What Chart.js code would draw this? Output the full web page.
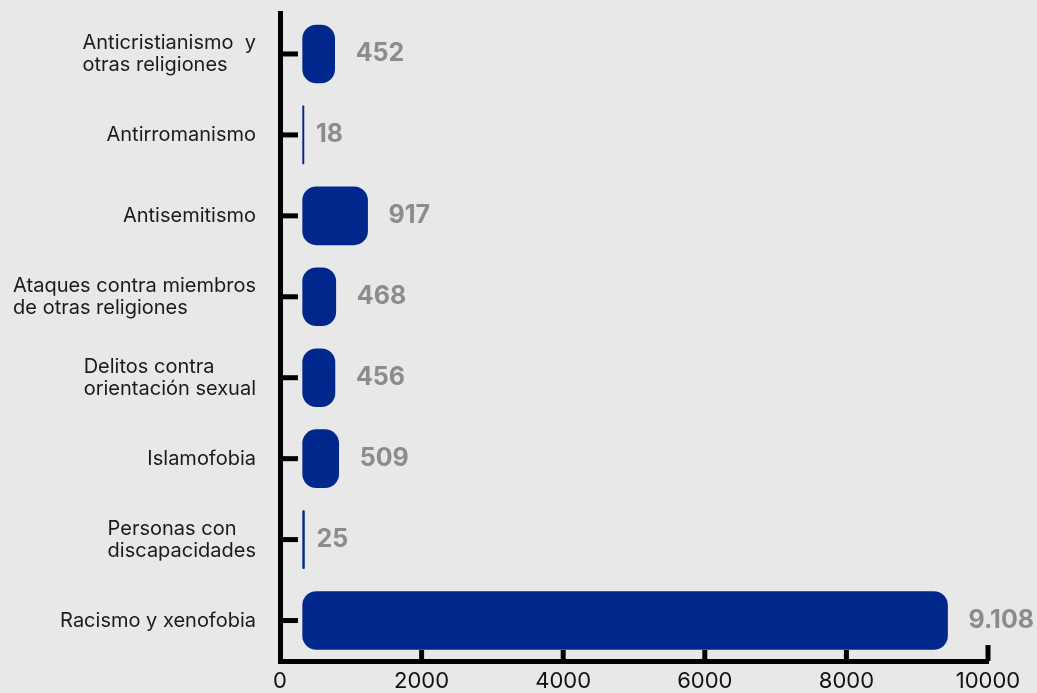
<!DOCTYPE html>
<html lang="es">
<head>
<meta charset="utf-8">
<title>Delitos de odio por motivo</title>
<script src="https://cdn.jsdelivr.net/npm/chart.js@4.4.1/dist/chart.umd.min.js"></script>
<style>
  html, body { margin: 0; padding: 0; background: #e8e8e8; }
  #wrap { position: relative; width: 1037px; height: 693px; }
</style>
</head>
<body>
<div id="wrap"><canvas id="chart"></canvas></div>
<script>
// Categories (one entry per line of the label)
const categories = [
    ['Anticristianismo  y', 'otras religiones'],
    ['Antirromanismo'],
    ['Antisemitismo'],
    ['Ataques contra miembros', 'de otras religiones'],
    ['Delitos contra', 'orientación sexual'],
    ['Islamofobia'],
    ['Personas con', 'discapacidades'],
    ['Racismo y xenofobia']
];
const values = [452, 18, 917, 468, 456, 509, 25, 9108];
const xTicks = [0, 2000, 4000, 6000, 8000, 10000];

// bars in the original float a little off the axis
const BAR_START = 320;

const FONT = 'Inter';
const NAVY = '#00288c';

const fmt = v => String(v).replace(/\B(?=(\d{3})+(?!\d))/g, '.');

// inward tick marks, category labels and value labels
const decor = {
    id: 'decor',
    afterDraw(chart) {
        const { ctx, chartArea, scales: { x, y } } = chart;
        ctx.save();

        ctx.fillStyle = '#000';
        xTicks.forEach((t, i) => {
            if (t === 0) return;
            const px = x.getPixelForValue(t);
            const len = i === xTicks.length - 1 ? 16 : 11;
            ctx.fillRect(px - 2.5, chartArea.bottom - len, 5, len);
        });
        categories.forEach((c, i) => {
            const py = y.getPixelForValue(i);
            ctx.fillRect(chartArea.left, py - 2.5, 18, 5);
        });

        ctx.font = `20px ${FONT}`;
        ctx.fillStyle = '#1b1b1b';
        ctx.textBaseline = 'middle';
        ctx.textAlign = 'left';
        const lh = 22;
        categories.forEach((lines, i) => {
            const py = y.getPixelForValue(i);
            const w = Math.max(...lines.map(l => ctx.measureText(l).width));
            const x0 = chartArea.left - 24 - w;
            lines.forEach((l, j) => {
                ctx.fillText(l, x0, py + (j - (lines.length - 1) / 2) * lh);
            });
        });

        ctx.font = `bold 25px ${FONT}`;
        ctx.fillStyle = '#8c8c8c';
        values.forEach((v, i) => {
            const px = x.getPixelForValue(BAR_START + v);
            const py = y.getPixelForValue(i);
            ctx.fillText(fmt(v), px + (v < 100 ? 12 : 21), py);
        });

        ctx.restore();
    }
};

const ctx = document.getElementById('chart').getContext('2d');

new Chart(ctx, {
    type: 'bar',
    data: {
        labels: categories,
        datasets: [{
            data: values.map(v => [BAR_START, BAR_START + v]),
            backgroundColor: NAVY,
            borderSkipped: false,
            borderRadius: 14,
            barThickness: 58
        }]
    },
    options: {
        indexAxis: 'y',
        responsive: true,
        maintainAspectRatio: false,
        animation: false,
        layout: { padding: { top: 13.5, right: 49, bottom: 0, left: 0 } },
        plugins: {
            legend: { display: false },
            tooltip: { enabled: false }
        },
        scales: {
            x: {
                min: 0,
                max: 10000,
                afterBuildTicks: s => { s.ticks = xTicks.map(v => ({ value: v })); },
                afterFit: s => { s.height = 32; },
                grid: { display: false, drawTicks: false },
                border: { color: '#000', width: 5 },
                ticks: {
                    color: '#111',
                    padding: 7,
                    maxRotation: 0,
                    autoSkip: false,
                    font: { family: FONT, size: 22 },
                    callback: v => String(v)
                }
            },
            y: {
                afterFit: s => { s.width = 280; },
                grid: { display: false, drawTicks: false },
                border: { color: '#000', width: 5 },
                ticks: { display: false }
            }
        }
    },
    plugins: [decor]
});
</script>
</body>
</html>
